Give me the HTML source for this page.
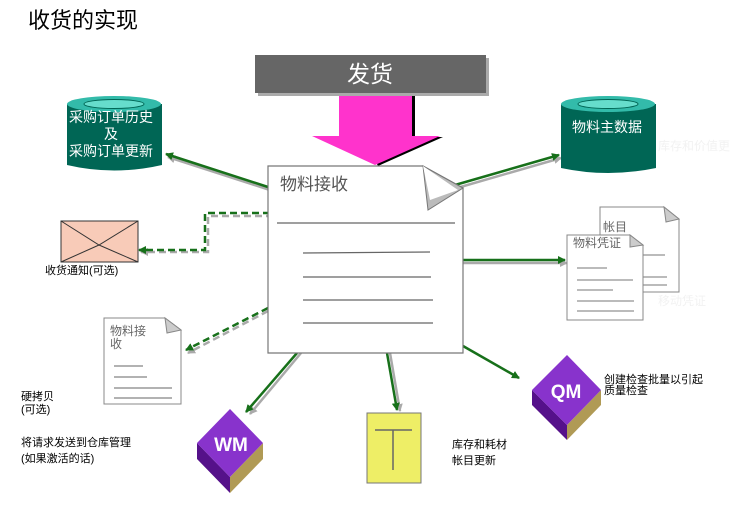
<!DOCTYPE html>
<html><head><meta charset="utf-8"><style>
body{margin:0;background:#fff}
svg{display:block}
text{font-family:"Liberation Sans","Noto Sans CJK SC",sans-serif}
</style></head><body>
<svg width="736" height="510" viewBox="0 0 736 510" xmlns="http://www.w3.org/2000/svg">
<defs>
<marker id="ag" markerWidth="8" markerHeight="8" refX="7" refY="4" orient="auto" markerUnits="userSpaceOnUse"><path d="M0,0 L8,4 L0,8 Z" fill="#17701a"/></marker>
<marker id="ay" markerWidth="8" markerHeight="8" refX="7" refY="4" orient="auto" markerUnits="userSpaceOnUse"><path d="M0,0 L8,4 L0,8 Z" fill="#aaa"/></marker>
</defs>
<text x="28" y="28" font-size="22" fill="#000">收货的实现</text>

<rect x="258" y="58" width="231" height="38" fill="#aaa"/>
<rect x="255" y="55" width="231" height="38" fill="#666"/>
<text x="370" y="82" font-size="23" fill="#fff" text-anchor="middle">发货</text>
<path d="M342,96 L415,96 L415,137 L443,137 L378,166 Z" fill="#000"/>
<path d="M339,96 L412,96 L412,136 L440,136 L375,165 L312,136 L339,136 Z" fill="#ff33cc"/>

<g stroke-width="2.5" fill="none">
<line x1="270" y1="190" x2="168" y2="157" stroke="#aaa" marker-end="url(#ay)"/>
<line x1="268" y1="187" x2="166" y2="154" stroke="#17701a" marker-end="url(#ag)"/>
<line x1="457" y1="188" x2="561" y2="158" stroke="#aaa" marker-end="url(#ay)"/>
<line x1="455" y1="185" x2="559" y2="155" stroke="#17701a" marker-end="url(#ag)"/>
<line x1="463" y1="263" x2="567" y2="263" stroke="#aaa" marker-end="url(#ay)"/>
<line x1="463" y1="260" x2="565" y2="260" stroke="#17701a" marker-end="url(#ag)"/>
<polyline points="273,216 208,216 208,252 141,252" stroke="#aaa" stroke-dasharray="7,4" marker-end="url(#ay)"/>
<polyline points="270,213 205,213 205,250 139,250" stroke="#17701a" stroke-dasharray="7,4" marker-end="url(#ag)"/>
<line x1="268" y1="311" x2="188" y2="353" stroke="#aaa" stroke-dasharray="7,4" marker-end="url(#ay)"/>
<line x1="268" y1="308" x2="186" y2="350" stroke="#17701a" stroke-dasharray="7,4" marker-end="url(#ag)"/>
<line x1="301" y1="353" x2="250" y2="414" stroke="#aaa" marker-end="url(#ay)"/>
<line x1="297" y1="353" x2="246" y2="412" stroke="#17701a" marker-end="url(#ag)"/>
<line x1="390" y1="353" x2="400" y2="411" stroke="#aaa" marker-end="url(#ay)"/>
<line x1="387" y1="353" x2="397" y2="410" stroke="#17701a" marker-end="url(#ag)"/>
<line x1="463" y1="346" x2="519" y2="378" stroke="#17701a" marker-end="url(#ag)"/>
</g>

<path d="M268,166 L423,166 L463,188 L463,353 L268,353 Z" fill="#fff" stroke="#777" stroke-width="1.2"/>
<path d="M423,166 L428,210 L463,188 Z" fill="#bbb" stroke="#777"/>
<path d="M423,166 L430,200 L458,190 Z" fill="#fff"/>
<text x="280" y="190" font-size="17" fill="#555">物料接收</text>
<g stroke="#666" stroke-width="1.2">
<line x1="277" y1="223" x2="455" y2="223"/>
<line x1="303" y1="253" x2="430" y2="252"/>
<line x1="303" y1="277" x2="431" y2="277"/>
<line x1="303" y1="300" x2="433" y2="300"/>
<line x1="303" y1="323" x2="433" y2="323"/>
</g>

<path d="M67,104 L67,165 Q114,176 162,165 L162,104 Z" fill="#006655"/>
<ellipse cx="114" cy="104" rx="47" ry="8" fill="#33bbaa"/>
<ellipse cx="114" cy="104" rx="30" ry="4.5" fill="#66ddcc" stroke="#006655"/>
<text font-size="14" fill="#fff" text-anchor="middle"><tspan x="111" y="122">采购订单历史</tspan><tspan x="111" y="139">及</tspan><tspan x="111" y="156">采购订单更新</tspan></text>

<path d="M561,104 L561,168 Q608,178 656,168 L656,104 Z" fill="#006655"/>
<ellipse cx="608" cy="104" rx="47" ry="8" fill="#33bbaa"/>
<ellipse cx="608" cy="104" rx="30" ry="4.5" fill="#66ddcc" stroke="#006655"/>
<text x="607" y="132" font-size="14" fill="#fff" text-anchor="middle">物料主数据</text>
<text x="658" y="150" font-size="12" fill="#f2f2f2">库存和价值更</text>
<text x="658" y="305" font-size="12" fill="#f2f2f2">移动凭证</text>

<rect x="61" y="221" width="77" height="41" fill="#f8cbb8" stroke="#333"/>
<polyline points="61,221 99,245 138,221" fill="none" stroke="#333"/>
<line x1="61" y1="262" x2="99" y2="245" stroke="#333"/>
<line x1="138" y1="262" x2="99" y2="245" stroke="#333"/>
<text x="45" y="274" font-size="11" fill="#000">收货通知(可选)</text>

<path d="M600,207 L664,207 L679,219 L679,292 L600,292 Z" fill="#fff" stroke="#888"/>
<path d="M664,207 L666,222 L679,219 Z" fill="#ccc" stroke="#888"/>
<text x="603" y="231" font-size="12" fill="#666">帐目</text>
<g stroke="#777"><line x1="640" y1="255" x2="665" y2="255"/><line x1="640" y1="277" x2="667" y2="277"/><line x1="640" y1="285" x2="667" y2="285"/></g>
<path d="M567,235 L630,235 L643,245 L643,320 L567,320 Z" fill="#fff" stroke="#888"/>
<path d="M630,235 L630,247 L643,245 Z" fill="#ccc" stroke="#888"/>
<text x="573" y="247" font-size="12" fill="#666">物料凭证</text>
<g stroke="#777"><line x1="577" y1="268" x2="607" y2="268"/><line x1="577" y1="280" x2="633" y2="280"/><line x1="577" y1="290" x2="613" y2="290"/><line x1="577" y1="301" x2="634" y2="301"/><line x1="577" y1="311" x2="634" y2="311"/></g>

<path d="M104,318 L165,318 L181,330 L181,404 L104,404 Z" fill="#fff" stroke="#888"/>
<path d="M165,318 L167,333 L181,330 Z" fill="#ccc" stroke="#888"/>
<text font-size="12" fill="#666"><tspan x="110" y="335">物料接</tspan><tspan x="110" y="348">收</tspan></text>
<g stroke="#666"><line x1="114" y1="366" x2="143" y2="366"/><line x1="114" y1="377" x2="147" y2="377"/><line x1="114" y1="388" x2="172" y2="388"/><line x1="114" y1="398" x2="172" y2="398"/></g>

<text font-size="11" fill="#000"><tspan x="21" y="400">硬拷贝</tspan><tspan x="21" y="413">(可选)</tspan><tspan x="21" y="446">将请求发送到仓库管理</tspan><tspan x="21" y="462">(如果激活的话)</tspan></text>

<path d="M197,443 L230,477 L230,493 L197,459 Z" fill="#55118a"/>
<path d="M263,443 L230,477 L230,493 L263,459 Z" fill="#b09a55"/>
<path d="M230,409 L263,443 L230,477 L197,443 Z" fill="#8833cc"/>
<text x="231" y="451" font-size="19" font-weight="bold" fill="#fff" text-anchor="middle">WM</text>

<path d="M532,390 L567,425 L567,440 L532,405 Z" fill="#55118a"/>
<path d="M601,390 L567,425 L567,440 L601,405 Z" fill="#b09a55"/>
<path d="M567,355 L601,390 L567,425 L532,390 Z" fill="#8833cc"/>
<text x="566" y="398" font-size="19" font-weight="bold" fill="#fff" text-anchor="middle">QM</text>
<text font-size="11" fill="#000"><tspan x="604" y="383">创建检查批量以引起</tspan><tspan x="604" y="394">质量检查</tspan></text>

<rect x="367" y="413" width="54" height="70" fill="#eeee66" stroke="#777"/>
<line x1="375" y1="430" x2="412" y2="430" stroke="#666" stroke-width="1.5"/>
<line x1="393" y1="430" x2="393" y2="470" stroke="#666" stroke-width="1.5"/>
<text font-size="11" fill="#000"><tspan x="452" y="448">库存和耗材</tspan><tspan x="452" y="464">帐目更新</tspan></text>
</svg>
</body></html>
